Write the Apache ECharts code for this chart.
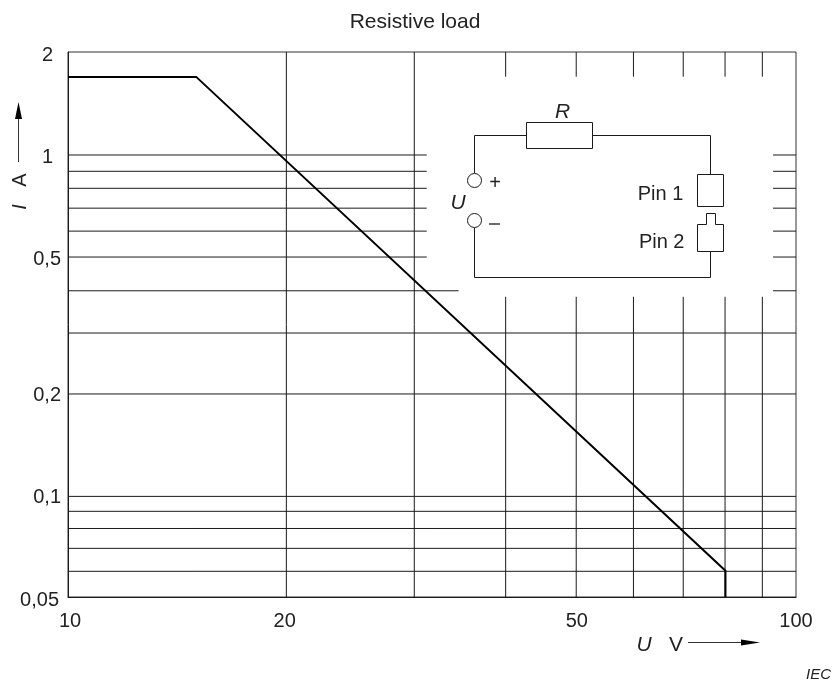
<!DOCTYPE html>
<html><head><meta charset="utf-8">
<style>html,body{margin:0;padding:0;background:#fff}#c{width:832px;height:686px}</style>
<script src="https://cdn.jsdelivr.net/npm/echarts@6/dist/echarts.min.js"></script>
</head><body><div id="c"></div>
<script>
const xTicks = [10, 20, 50, 100];
const yTicks = [0.05, 0.1, 0.2, 0.5, 1, 2];
const curveX = [10, 15, 80, 80];
const curveY = [1.69, 1.69, 0.0597, 0.05];
// rule positions
const fullV = [19.95, 29.9];
const brokenV = [39.92, 49.9, 59.8, 70, 79.9, 89.9];
const fullH = [0.0595, 0.0695, 0.0795, 0.0893, 0.0988, 0.1976, 0.2985];
const brokenH = [0.4993, 0.595, 0.695, 0.795, 0.892, 0.996];
const wideBrokenH = [0.3973];
const gapV = [0.3815, 1.692];
const gapH = [31.1, 93];
const gapHWide = [34.4, 93];

const FONT = '"Liberation Sans", Arial, sans-serif';
const INK = '#1a1a1a';
const seg = (a, b) => ({
  type: 'line', data: [a, b], showSymbol: false, silent: true, z: 1,
  lineStyle: { color: INK, width: 1 }
});
const gridSeries = [];
fullV.forEach(x => gridSeries.push(seg([x, 0.05], [x, 2])));
brokenV.forEach(x => {
  gridSeries.push(seg([x, 0.05], [x, gapV[0]]));
  gridSeries.push(seg([x, gapV[1]], [x, 2]));
});
fullH.forEach(y => gridSeries.push(seg([10, y], [100, y])));
brokenH.forEach(y => {
  gridSeries.push(seg([10, y], [gapH[0], y]));
  gridSeries.push(seg([gapH[1], y], [100, y]));
});
wideBrokenH.forEach(y => {
  gridSeries.push(seg([10, y], [gapHWide[0], y]));
  gridSeries.push(seg([gapHWide[1], y], [100, y]));
});

const stroke = { stroke: INK, lineWidth: 1, fill: 'transparent' };
const poly = pts => ({ type: 'polyline', silent: true, shape: { points: pts }, style: stroke });
const text = (x, y, t, o = {}) => ({
  type: 'text', x, y, rotation: o.rotation || 0, silent: true,
  style: { text: t, font: `${o.italic ? 'italic ' : ''}${o.size || 20}px ${FONT}`, fill: '#222',
    align: 'center', verticalAlign: 'middle' }
});
const graphics = [
  text(415, 22, 'Resistive load', { size: 21 }),
  // circuit
  { type: 'rect', silent: true, shape: { x: 526.5, y: 122.5, width: 66, height: 26 }, style: stroke },
  poly([[526.5, 135.5], [474.5, 135.5], [474.5, 173]]),
  poly([[592.5, 135.5], [710.5, 135.5], [710.5, 174.5]]),
  { type: 'rect', silent: true, shape: { x: 697.5, y: 174.5, width: 26, height: 32 }, style: stroke },
  poly([[697.5, 251.5], [723.5, 251.5], [723.5, 224.5], [715.5, 224.5], [715.5, 213.5], [706.5, 213.5], [706.5, 224.5], [697.5, 224.5], [697.5, 251.5]]),
  poly([[710.5, 251.5], [710.5, 277.5], [474.5, 277.5], [474.5, 228]]),
  { type: 'circle', silent: true, shape: { cx: 474.5, cy: 180.5, r: 7 }, style: stroke },
  { type: 'circle', silent: true, shape: { cx: 474.5, cy: 220.5, r: 7 }, style: stroke },
  text(562.5, 112, 'R', { italic: true, size: 21 }),
  text(458, 203.5, 'U', { italic: true, size: 21 }),
  text(495, 183.5, '+', { size: 20 }),
  { type: 'line', silent: true, shape: { x1: 489, y1: 224, x2: 500, y2: 224 }, style: { stroke: INK, lineWidth: 1.3 } },
  text(660.5, 194, 'Pin 1'),
  text(661.7, 242, 'Pin 2'),
  // y axis name + arrow
  text(20.5, 180, 'A', { rotation: Math.PI / 2 }),
  text(20.5, 207, 'I', { italic: true, rotation: Math.PI / 2 }),
  { type: 'line', silent: true, shape: { x1: 18.5, y1: 162, x2: 18.5, y2: 115 }, style: { stroke: '#333', lineWidth: 1 } },
  { type: 'polygon', silent: true, shape: { points: [[18.5, 102], [22, 119], [15, 119]] }, style: { fill: '#000' } },
  // x axis name + arrow
  text(644, 645, 'U', { italic: true, size: 21 }),
  text(676, 645, 'V', { size: 21 }),
  { type: 'line', silent: true, shape: { x1: 688, y1: 642.5, x2: 745, y2: 642.5 }, style: { stroke: '#333', lineWidth: 1 } },
  { type: 'polygon', silent: true, shape: { points: [[760, 642.5], [741, 639.5], [741, 645.5]] }, style: { fill: '#000' } },
  text(818.5, 675, 'IEC', { italic: true, size: 15 })
];

const chart = echarts.init(document.getElementById('c'), null, { renderer: 'canvas' });
chart.setOption({
  animation: false,
  backgroundColor: '#fff',
  grid: { left: 68, right: 36, top: 52, bottom: 89, show: true, borderColor: '#333', borderWidth: 1, backgroundColor: 'transparent' },
  xAxis: {
    type: 'log', logBase: 10, min: 10, max: 100,
    axisLine: { show: true, lineStyle: { color: INK } }, axisTick: { show: false }, splitLine: { show: false }, minorSplitLine: { show: false },
    axisLabel: { customValues: xTicks, color: '#222', fontSize: 20, fontFamily: FONT, margin: 14, showMinLabel: true, showMaxLabel: true,
      formatter: v => { const n = Math.round(+v); return n === 10 ? '{r|10}' : n === 20 ? '{l|20}' : String(n); },
      rich: { r: { fontSize: 20, fontFamily: FONT, color: '#222', padding: [0, 0, 0, 4] }, l: { fontSize: 20, fontFamily: FONT, color: '#222', padding: [0, 5, 0, 0] } } }
  },
  yAxis: {
    type: 'log', logBase: 10, min: 0.05, max: 2,
    axisLine: { show: true, onZero: false, lineStyle: { color: INK } }, axisTick: { show: false }, splitLine: { show: false }, minorSplitLine: { show: false },
    axisLabel: { customValues: yTicks, color: '#222', fontSize: 20, fontFamily: FONT, margin: 7, showMinLabel: true, showMaxLabel: true,
      padding: [6, 0, 0, 0],
      formatter: v => {
        const s = String(+(+v).toPrecision(3)).replace('.', ',');
        return s.length === 1 ? `{n|${s}}` : s.length === 4 ? `{w|${s}}` : `{m|${s}}`;
      },
      rich: {
        n: { fontSize: 20, fontFamily: FONT, color: '#222', padding: [0, 8, 0, 0] },
        w: { fontSize: 20, fontFamily: FONT, color: '#222', padding: [0, 2, 0, 0] },
        m: { fontSize: 20, fontFamily: FONT, color: '#222' }
      } }
  },
  series: gridSeries.concat([{
    type: 'line', z: 5, silent: true, showSymbol: false,
    data: curveX.map((x, i) => [x, curveY[i]]),
    lineStyle: { color: '#000', width: 2, join: 'miter' }
  }]),
  graphic: { elements: graphics }
});
</script></body></html>
